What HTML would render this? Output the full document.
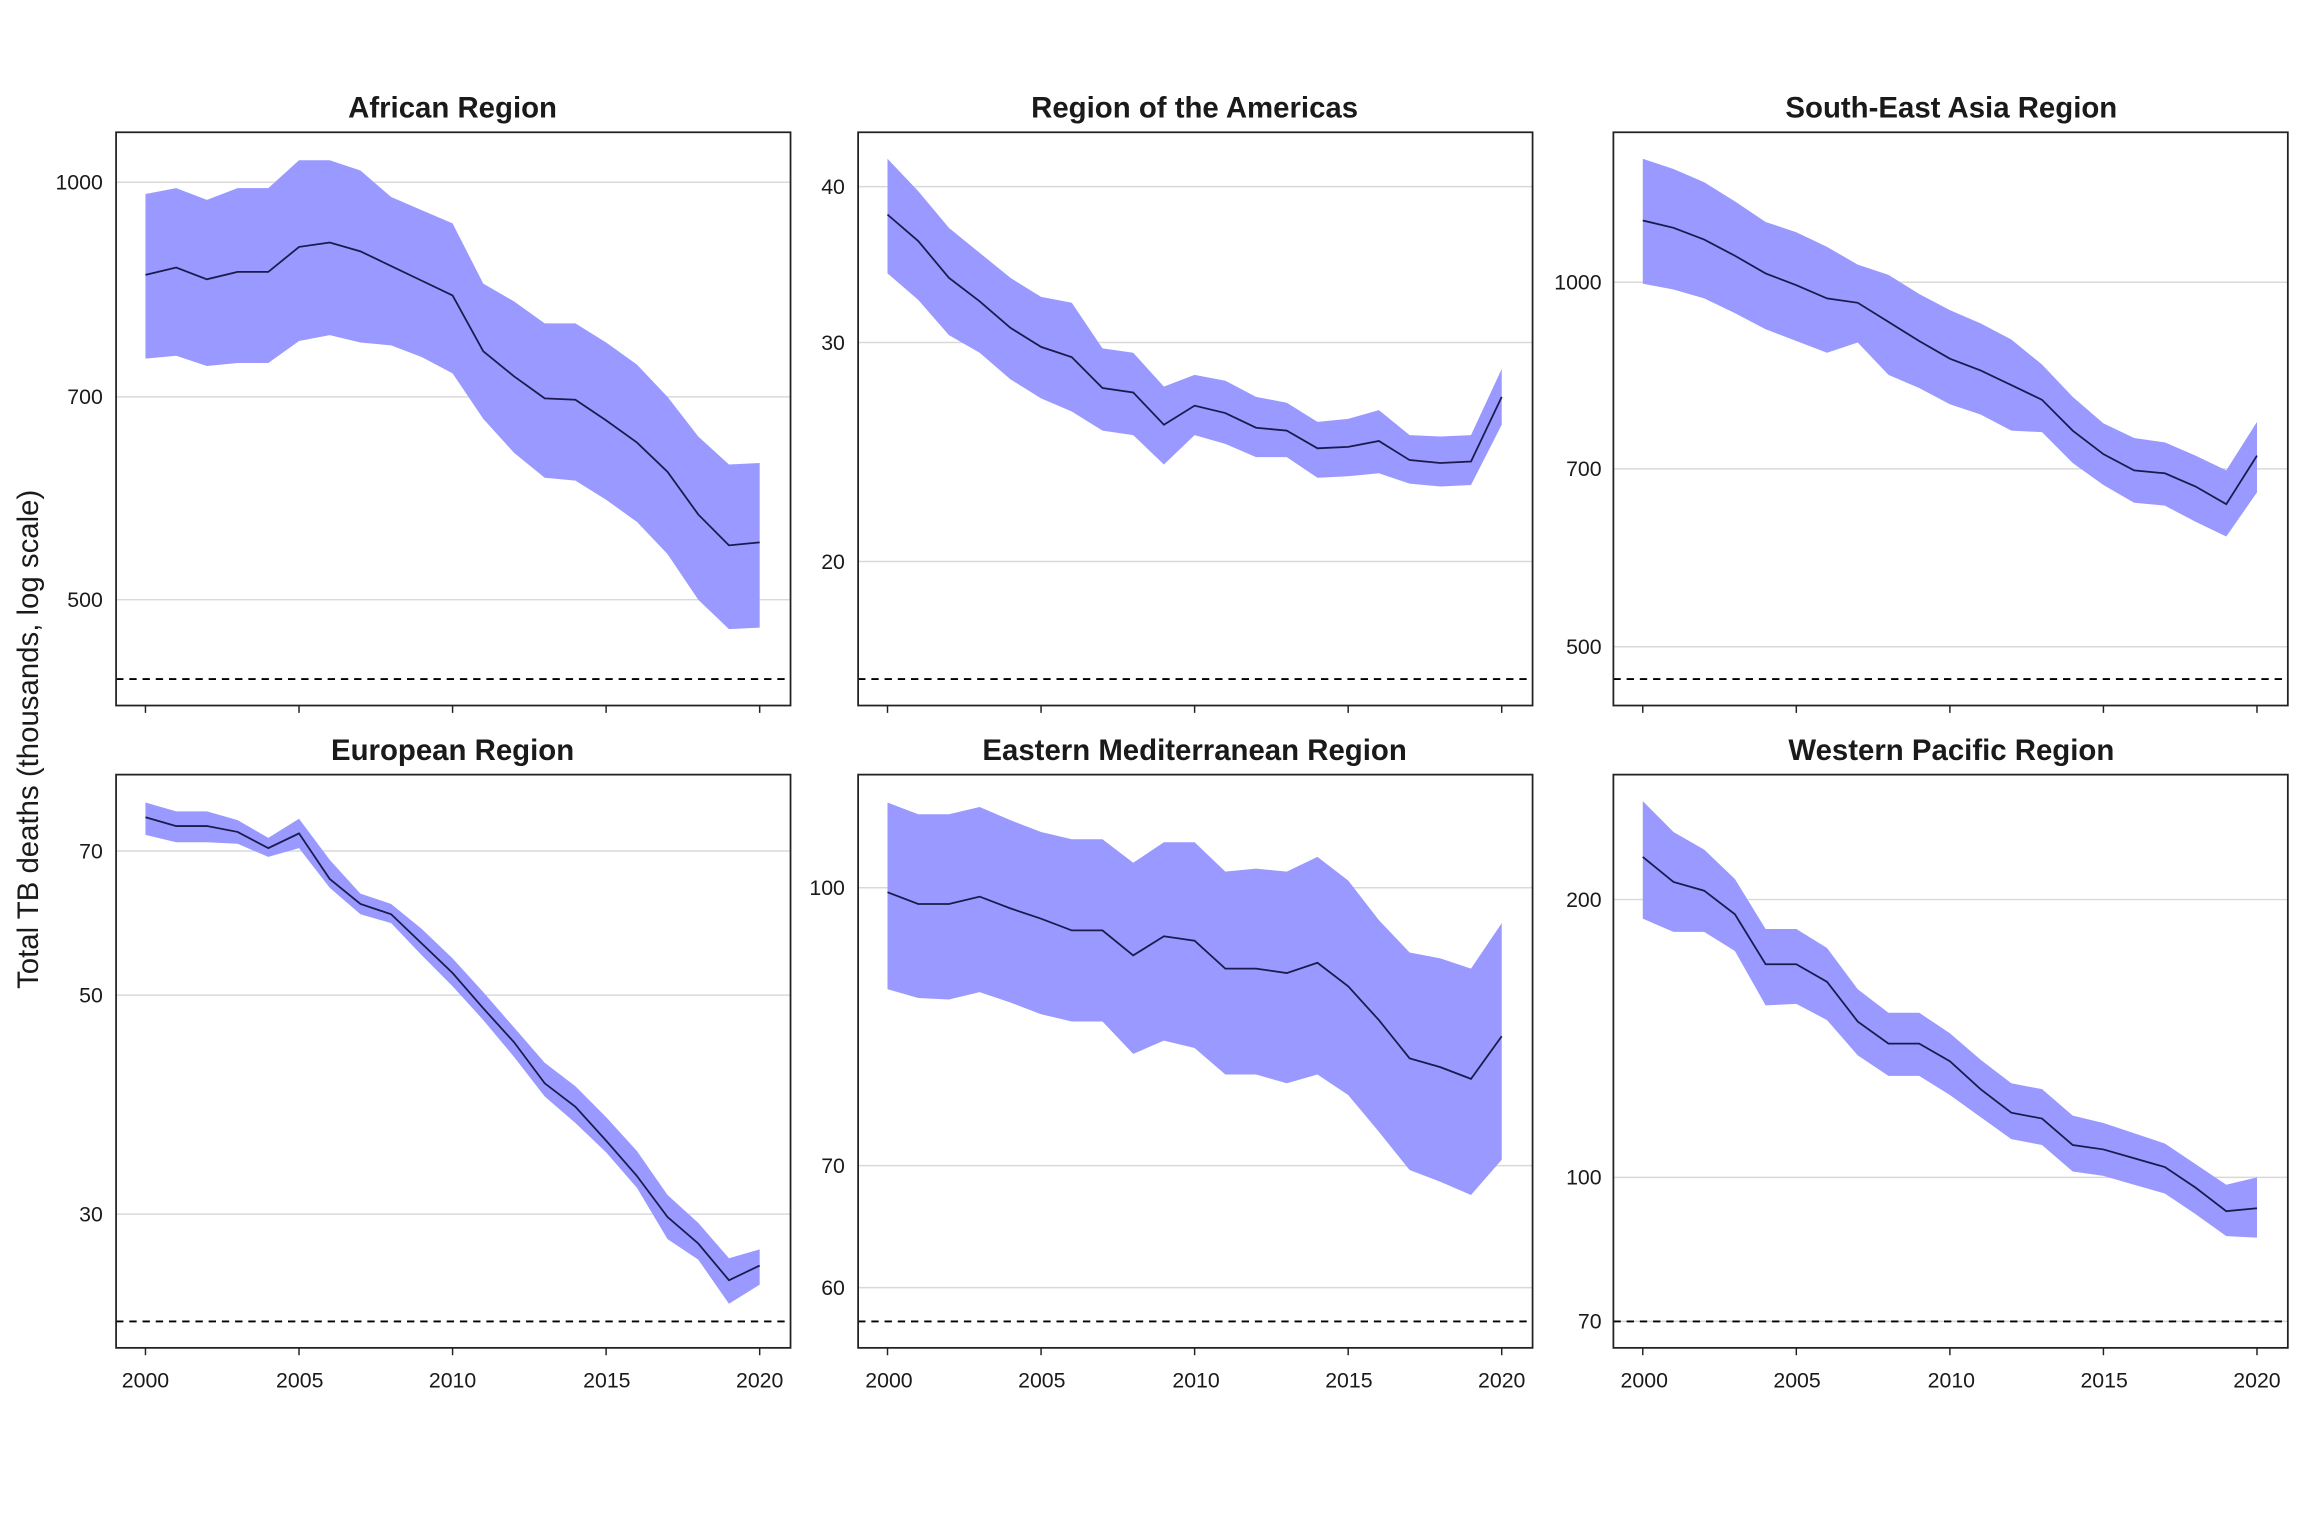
<!DOCTYPE html>
<html><head><meta charset="utf-8"><style>
html,body{margin:0;padding:0;background:#fff;}
svg{display:block;}
text{font-family:"Liberation Sans",Arial,sans-serif;fill:#1a1a1a;}
.t{font-size:20px;font-weight:bold;}
.k{font-size:14.5px;}
</style></head><body>
<svg id="s" width="2304" height="1536" viewBox="0 0 1568 1045" preserveAspectRatio="none" xmlns="http://www.w3.org/2000/svg">
<rect width="1568" height="1045" fill="#fff"/>
<g id="plots"></g>
<text class="t" x="308" y="80" text-anchor="middle">African Region</text>
<text class="t" x="813" y="80" text-anchor="middle">Region of the Americas</text>
<text class="t" x="1328" y="80" text-anchor="middle">South-East Asia Region</text>
<text class="t" x="308" y="517" text-anchor="middle">European Region</text>
<text class="t" x="813" y="517" text-anchor="middle">Eastern Mediterranean Region</text>
<text class="t" x="1328" y="517" text-anchor="middle">Western Pacific Region</text>
<text x="26" y="503" transform="rotate(-90 26 503)" text-anchor="middle" style="font-size:20px">Total TB deaths (thousands, log scale)</text>
<g class="k" text-anchor="end">
<text x="70" y="129">1000</text><text x="70" y="275">700</text><text x="70" y="413">500</text>
<text x="575" y="132">40</text><text x="575" y="238">30</text><text x="575" y="387">20</text>
<text x="1090" y="197">1000</text><text x="1090" y="324">700</text><text x="1090" y="445">500</text>
<text x="70" y="584">70</text><text x="70" y="682">50</text><text x="70" y="831">30</text>
<text x="575" y="609">100</text><text x="575" y="798">70</text><text x="575" y="881">60</text>
<text x="1090" y="617">200</text><text x="1090" y="806">100</text><text x="1090" y="904">70</text>
</g>
<g class="k" text-anchor="middle">
<text x="99" y="944">2000</text><text x="204" y="944">2005</text><text x="308" y="944">2010</text><text x="413" y="944">2015</text><text x="517" y="944">2020</text>
<text x="605" y="944">2000</text><text x="709" y="944">2005</text><text x="814" y="944">2010</text><text x="918" y="944">2015</text><text x="1022" y="944">2020</text>
<text x="1119" y="944">2000</text><text x="1223" y="944">2005</text><text x="1328" y="944">2010</text><text x="1432" y="944">2015</text><text x="1536" y="944">2020</text>
</g>
</svg>
<script>
var P=[
{x:79,y:90,grid:[124,270,408],dash:462,
m:[187,182,190,185,185,168,165,171,181,191,201,239,256,271,272,286,301,321,350,371,369],
u:[132,128,136,128,128,109,109,116,134,143,152,193,205,220,220,233,248,270,297,316,315],
l:[244,242,249,247,247,232,228,233,235,243,254,285,308,325,327,340,355,377,408,428,427]},
{x:584,y:90,grid:[127,233,382],dash:462,
m:[146,164,189,205,223,236,243,264,267,289,276,281,291,293,305,304,300,313,315,314,270],
u:[108,130,155,172,189,202,206,237,240,263,255,259,270,274,287,285,279,296,297,296,251],
l:[186,204,228,240,258,271,280,293,296,316,296,302,311,311,325,324,322,329,331,330,289]},
{x:1098,y:90,grid:[192,319,440],dash:462,
m:[150,155,163,174,186,194,203,206,219,232,244,252,262,272,293,309,320,322,331,343,310],
u:[108,115,124,137,151,158,168,180,187,200,211,220,231,248,270,288,298,301,310,320,287],
l:[193,197,203,213,224,232,240,233,255,264,275,282,293,294,315,330,342,344,355,365,335]},
{x:79,y:527,grid:[579,677,826],dash:899,
m:[556,562,562,566,577,567,598,615,622,642,662,686,709,737,753,776,800,828,846,871,861],
u:[546,552,552,558,570,557,585,608,615,632,652,675,699,723,739,760,783,813,832,856,850],
l:[568,573,573,574,583,577,604,622,628,650,671,694,719,746,764,784,808,843,857,887,874]},
{x:584,y:527,grid:[604,793,876],dash:899,
m:[607,615,615,610,618,625,633,633,650,637,640,659,659,662,655,671,694,720,726,734,705],
u:[546,554,554,549,558,566,571,571,587,573,573,593,591,593,583,599,626,648,652,659,628],
l:[673,679,680,675,682,690,695,695,717,708,713,731,731,737,731,745,770,796,804,813,789]},
{x:1098,y:527,grid:[612,801,899],dash:899,
m:[583,600,606,622,656,656,668,695,710,710,722,741,757,761,779,782,788,794,808,824,822],
u:[545,566,578,598,632,632,645,673,689,689,703,721,737,741,759,764,771,778,792,806,801],
l:[625,634,634,647,684,683,694,718,732,732,745,760,775,779,797,800,806,812,826,841,842]}
];
var h='';
P.forEach(function(p){
 var W=459,H=390,x0=p.x+20,st=(W-41)/20;
 h+='<rect x="'+p.x+'" y="'+p.y+'" width="'+W+'" height="'+H+'" fill="#fff"/>';
 p.grid.forEach(function(g){h+='<line x1="'+p.x+'" x2="'+(p.x+W)+'" y1="'+g+'" y2="'+g+'" stroke="#d9d9d9" stroke-width="1"/>';});
 var pts=[];
 for(var i=0;i<21;i++)pts.push((x0+i*st).toFixed(1)+','+p.u[i]);
 for(var i=20;i>=0;i--)pts.push((x0+i*st).toFixed(1)+','+p.l[i]);
 h+='<polygon points="'+pts.join(' ')+'" fill="#9999ff"/>';
 var mp=[];for(var i=0;i<21;i++)mp.push((x0+i*st).toFixed(1)+','+p.m[i]);
 h+='<polyline points="'+mp.join(' ')+'" fill="none" stroke="#1a1a4d" stroke-width="1.2"/>';
 h+='<line x1="'+p.x+'" x2="'+(p.x+W)+'" y1="'+p.dash+'" y2="'+p.dash+'" stroke="#000" stroke-width="1.3" stroke-dasharray="5,4"/>';
 h+='<rect x="'+p.x+'" y="'+p.y+'" width="'+W+'" height="'+H+'" fill="none" stroke="#222" stroke-width="1.2"/>';
 for(var i=0;i<=4;i++){var tx=x0+i*5*st;h+='<line x1="'+tx+'" x2="'+tx+'" y1="'+(p.y+H)+'" y2="'+(p.y+H+5)+'" stroke="#222"/>';}
});
document.getElementById('plots').innerHTML=h;
</script>
</body></html>
